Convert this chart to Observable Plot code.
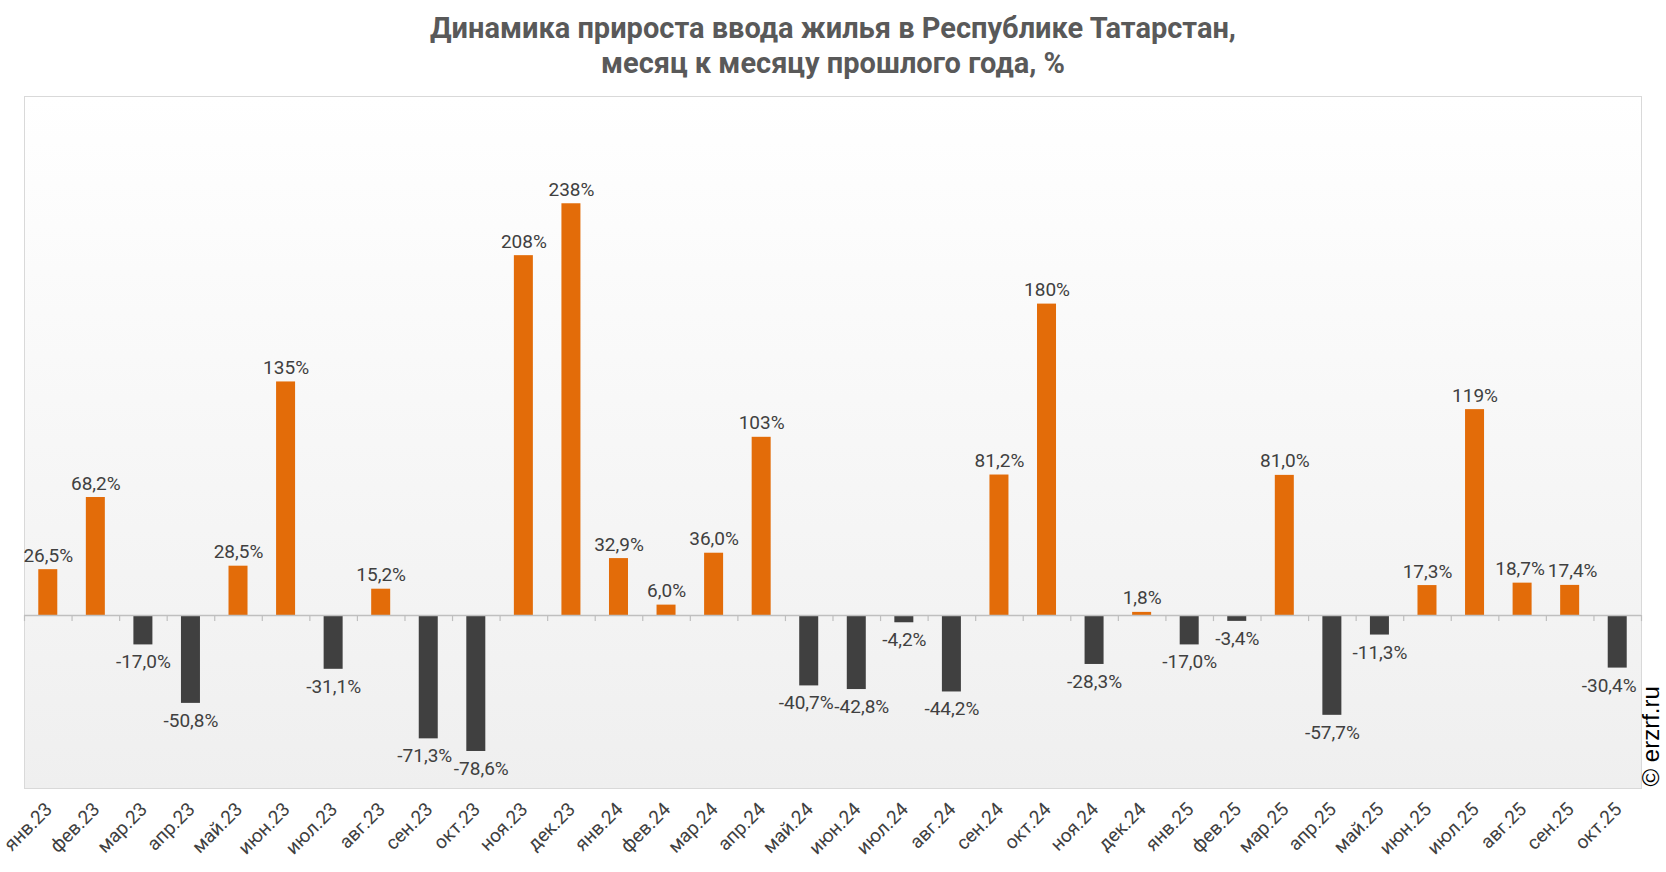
<!DOCTYPE html>
<html>
<head>
<meta charset="utf-8">
<script src="https://cdn.jsdelivr.net/npm/d3@7"></script>
<script src="https://cdn.jsdelivr.net/npm/@observablehq/plot@0.6"></script>
<style>
  html, body { margin: 0; padding: 0; background: #fff; overflow: hidden; }
  #title {
    width: 1666px; height: 84px; box-sizing: border-box; padding-top: 11px;
    font-family: Roboto, sans-serif; font-weight: bold; font-size: 29px; line-height: 35px;
    color: #595959; text-align: center;
  }
</style>
</head>
<body>
<div id="title">Динамика прироста ввода жилья в Республике Татарстан,<br>месяц к месяцу прошлого года, %</div>
<div id="chart"></div>
<script>
const months = ["янв.23","фев.23","мар.23","апр.23","май.23","июн.23","июл.23","авг.23","сен.23","окт.23","ноя.23","дек.23",
                "янв.24","фев.24","мар.24","апр.24","май.24","июн.24","июл.24","авг.24","сен.24","окт.24","ноя.24","дек.24",
                "янв.25","фев.25","мар.25","апр.25","май.25","июн.25","июл.25","авг.25","сен.25","окт.25"];
const values = [26.5, 68.2, -17.0, -50.8, 28.5, 135, -31.1, 15.2, -71.3, -78.6, 208, 238,
                32.9, 6.0, 36.0, 103, -40.7, -42.8, -4.2, -44.2, 81.2, 180, -28.3, 1.8,
                -17.0, -3.4, 81.0, -57.7, -11.3, 17.3, 119, 18.7, 17.4, -30.4];
const yDomain = [-100, 300];
const watermark = "© erzrf.ru";

const data = months.map((m, i) => ({m, v: values[i]}));
const fmt = v => (Math.abs(v) >= 100 ? d3.format(".0f")(v) : d3.format(".1f")(v))
  .replace(".", ",").replace("\u2212", "-") + "%";

// small horizontal label nudges (px) to avoid collisions, as in the original
const nudge = {"сен.23": -4, "окт.23": 5, "май.24": -3, "июн.24": 5, "авг.25": -2.5, "сен.25": 2.5, "окт.25": -8.5};

const W = 1666, H = 788, mL = 24, mR = 25, mT = 12, mB = 84;
const step = (W - mL - mR) / months.length;
const barW = 19;
const inset = (step - barW) / 2;
const ORANGE = "#e36c09", DARK = "#404040", GRID = "#bfbfbf";

const valueLabels = data.map(d => Plot.text([d], {
  x: "m", y: "v", text: d => fmt(d.v),
  lineAnchor: d.v >= 0 ? "bottom" : "top", dy: d.v >= 0 ? -8 : 10, dx: nudge[d.m] || 0,
  fontSize: 19, fill: "#404040"
}));

const chart = Plot.plot({
  width: W, height: H,
  marginLeft: mL, marginRight: mR, marginTop: mT, marginBottom: mB,
  style: {fontFamily: "Roboto, sans-serif", background: "transparent", overflow: "visible"},
  x: {type: "band", domain: months, padding: 0, round: false, axis: null},
  y: {domain: yDomain, axis: null},
  marks: [
    Plot.frame({fill: "url(#bggrad)", stroke: "#d9d9d9"}),
    Plot.barY(data, {x: "m", y: "v", insetLeft: inset, insetRight: inset, fill: d => d.v >= 0 ? ORANGE : DARK}),
    Plot.ruleY([0], {stroke: GRID, strokeWidth: 1.5}),
    Plot.ruleX(months, {x: d => d, y1: 0, y2: -3.5, dx: -step / 2, stroke: GRID, strokeWidth: 1.2}),
    Plot.ruleX([months[months.length - 1]], {x: d => d, y1: 0, y2: -3.5, dx: step / 2, stroke: GRID, strokeWidth: 1.2}),
    ...valueLabels,
    Plot.text(months, {x: d => d, frameAnchor: "bottom", text: d => d, rotate: -45, textAnchor: "end", lineAnchor: "bottom",
                       dx: 5, dy: 22, fontSize: 19, fill: "#404040"}),
    Plot.text([watermark], {text: d => d, frameAnchor: "bottom-right", rotate: -90, textAnchor: "start", lineAnchor: "middle",
                            dx: 10, dy: -2, fontSize: 24, fontFamily: "Liberation Sans, Arial, sans-serif", fill: "#000"})
  ]
});

const ns = "http://www.w3.org/2000/svg";
const defs = document.createElementNS(ns, "defs");
defs.innerHTML = '<linearGradient id="bggrad" x1="0" y1="0" x2="0" y2="1">' +
  '<stop offset="0" stop-color="#ffffff"/><stop offset="1" stop-color="#efefef"/></linearGradient>';
chart.insertBefore(defs, chart.firstChild);
document.getElementById("chart").appendChild(chart);
</script>
</body>
</html>
